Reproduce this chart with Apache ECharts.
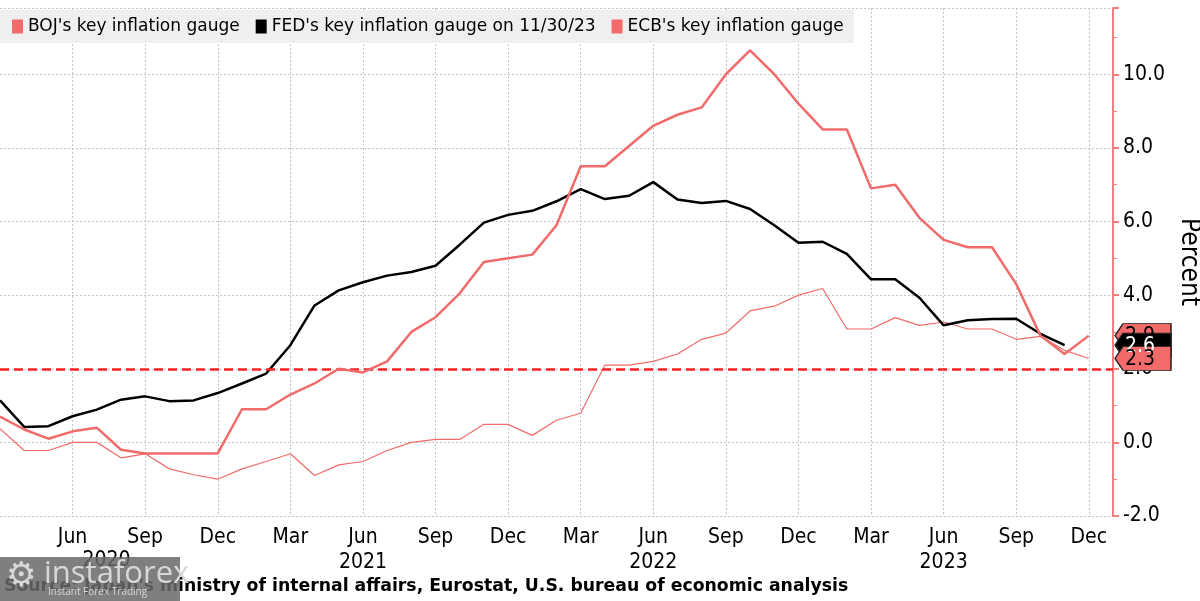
<!DOCTYPE html>
<html>
<head>
<meta charset="utf-8">
<script src="https://cdn.jsdelivr.net/npm/echarts@6/dist/echarts.min.js"></script>
<style>
html,body{margin:0;padding:0;background:#fff;}
#chart{width:1200px;height:601px;}
</style>
</head>
<body>
<div id="chart"></div>
<script>
const months = ['2020-03','2020-04','2020-05','2020-06','2020-07','2020-08','2020-09','2020-10','2020-11','2020-12',
  '2021-01','2021-02','2021-03','2021-04','2021-05','2021-06','2021-07','2021-08','2021-09','2021-10','2021-11','2021-12',
  '2022-01','2022-02','2022-03','2022-04','2022-05','2022-06','2022-07','2022-08','2022-09','2022-10','2022-11','2022-12',
  '2023-01','2023-02','2023-03','2023-04','2023-05','2023-06','2023-07','2023-08','2023-09','2023-10','2023-11','2023-12',
  '2024-01'];
const bojValues = [0.37,-0.22,-0.22,0.0,0.0,-0.42,-0.31,-0.72,-0.88,-1.0,
  -0.72,-0.52,-0.31,-0.9,-0.61,-0.52,-0.22,0.0,0.08,0.08,0.49,0.49,
  0.19,0.6,0.79,2.1,2.1,2.2,2.4,2.8,2.97,3.57,3.7,4.0,
  4.18,3.08,3.08,3.39,3.18,3.27,3.08,3.08,2.8,2.88,2.5,2.28];
const fedValues = [1.14,0.42,0.44,0.71,0.89,1.16,1.25,1.12,1.14,1.34,
  1.6,1.87,2.64,3.72,4.13,4.35,4.53,4.63,4.8,5.37,5.97,6.18,
  6.29,6.55,6.88,6.61,6.7,7.07,6.6,6.5,6.56,6.34,5.9,5.42,
  5.45,5.12,4.43,4.43,3.93,3.18,3.32,3.35,3.36,2.95,2.64];
const ecbValues = [0.7,0.35,0.1,0.3,0.4,-0.2,-0.3,-0.3,-0.3,-0.3,
  0.9,0.9,1.3,1.6,2.0,1.9,2.2,3.0,3.4,4.05,4.9,5.0,
  5.1,5.9,7.5,7.5,8.05,8.6,8.9,9.1,10.0,10.65,10.0,9.2,
  8.5,8.5,6.9,7.0,6.1,5.5,5.3,5.3,4.3,2.9,2.4,2.9];
const seriesNames = ["BOJ's key inflation gauge", "FED's key inflation gauge on 11/30/23", "ECB's key inflation gauge"];
const monthNames = {3:'Mar', 6:'Jun', 9:'Sep', 12:'Dec'};
const targetRate = 2.0;
const yMin = -2, yMax = 11.8, yInterval = 2;
const firstYear = '2020';
const sourceText = "Source: Japan's ministry of internal affairs, Eurostat, U.S. bureau of economic analysis";

const FONT = "'DejaVu Sans', sans-serif";
const COND = "'DejaVu Sans Condensed', 'DejaVu Sans', sans-serif";
const RED = '#f26b6b';
const chart = echarts.init(document.getElementById('chart'), null, {renderer:'canvas'});

// middle of the partially visible first year
const firstYearIdx = Math.floor((months.filter(function (m) { return m.slice(0, 4) === firstYear; }).length - 1) / 2);

function showTick(index) {
  if (index === 0 || index === months.length - 1) return false;
  const m = parseInt(months[index].slice(5), 10);
  return m % 3 === 0;
}

// value tag pinned on the right axis (last category = axis edge)
const TAG_PATH = 'path://M0,12 L8,0 L56,0 L56,24 L8,24 Z';
function tagSeries(name, value, bg, fg, z) {
  return {
    name: name, type: 'line', data: [], z: z,
    markPoint: {
      silent: true,
      symbol: TAG_PATH, symbolSize: [56, 24], symbolOffset: [30, 0],
      symbolKeepAspect: false,
      itemStyle: {color: bg, borderColor: '#222', borderWidth: 1},
      label: {
        show: true, position: 'inside', offset: [-3, 1],
        color: fg, fontSize: 21, fontFamily: COND,
        formatter: value.toFixed(1)
      },
      data: [{coord: [months[months.length - 1], value], value: value}]
    }
  };
}

const option = {
  animation: false,
  backgroundColor: '#fff',
  grid: {left: 0, right: 87, top: 8, bottom: 85, containLabel: false, outerBoundsMode: 'none'},
  legend: {
    data: seriesNames,
    left: 0, top: 10,
    backgroundColor: '#efefef',
    padding: [8, 10, 8, 12],
    itemGap: 16, itemWidth: 11, itemHeight: 14,
    icon: 'rect',
    textStyle: {fontSize: 17, fontFamily: FONT, color: '#000'}
  },
  xAxis: [
    {
      type: 'category', data: months, boundaryGap: false,
      axisLine: {show: false}, axisTick: {show: false},
      axisLabel: {
        interval: showTick, margin: 9, fontSize: 21, fontFamily: COND, color: '#000',
        lineHeight: 25,
        formatter: function (v) {
          const y = v.slice(0, 4), m = parseInt(v.slice(5), 10);
          const name = monthNames[m] || '';
          if (m === 6 && y !== firstYear) return name + '\n' + y;
          return name;
        }
      },
      splitLine: {show: true, interval: showTick, lineStyle: {color: '#c4c4c4', type: [2, 2], width: 1}}
    },
    {
      type: 'category', data: months, boundaryGap: true, position: 'bottom',
      axisLine: {show: false}, axisTick: {show: false}, splitLine: {show: false},
      axisLabel: {
        interval: function (i) { return i === firstYearIdx; },
        margin: 34, fontSize: 21, fontFamily: COND, color: '#000',
        formatter: function (v) { return v.slice(0, 4); }
      }
    }
  ],
  yAxis: {
    type: 'value', position: 'right', min: yMin, max: yMax, interval: yInterval,
    name: 'Percent', nameLocation: 'middle', nameRotate: -90, nameGap: 59,
    nameTextStyle: {fontSize: 26, fontFamily: COND, color: '#000'},
    axisLine: {show: true, lineStyle: {color: '#f08080', width: 2}},
    axisTick: {show: true, length: 6, lineStyle: {color: '#f08080', width: 2}},
    minorTick: {show: true, splitNumber: 2, length: 4, lineStyle: {color: '#f08080', width: 1}},
    axisLabel: {
      margin: 10, fontSize: 21, fontFamily: COND, color: '#000',
      formatter: function (v) { return Math.abs(v % 2) < 1e-9 ? v.toFixed(1) : ''; }
    },
    splitLine: {show: true, lineStyle: {color: '#c4c4c4', type: [2, 2], width: 1}}
  },
  series: [
    {
      name: seriesNames[0], type: 'line', data: bojValues, symbol: 'none', color: RED,
      lineStyle: {width: 1.2, color: RED}, z: 3
    },
    {
      name: seriesNames[1], type: 'line', data: fedValues, symbol: 'none', color: '#000',
      lineStyle: {width: 2.5, color: '#000'}, z: 4
    },
    {
      name: seriesNames[2], type: 'line', data: ecbValues, symbol: 'none', color: RED,
      lineStyle: {width: 2.5, color: RED}, z: 5,
      markLine: {
        silent: true, symbol: ['none', 'none'],
        lineStyle: {color: '#ff2020', width: 2.5, type: [9, 5]},
        label: {show: false},
        data: [{yAxis: targetRate}]
      }
    },
    tagSeries('tagECB', ecbValues[ecbValues.length - 1], RED, '#000', 10),
    tagSeries('tagFED', fedValues[fedValues.length - 1], '#000', '#fff', 11),
    tagSeries('tagBOJ', bojValues[bojValues.length - 1], RED, '#000', 12)
  ],
  graphic: [
    {type: 'text', left: 4, top: 578, z: 50,
     style: {text: sourceText, fontSize: 17.3, fontWeight: 'bold', fontFamily: FONT, fill: '#000'}},
    {type: 'rect', left: 0, top: 557, z: 60, shape: {width: 180, height: 44},
     style: {fill: 'rgba(105,105,105,0.85)'}},
    {type: 'text', left: 6, top: 560, z: 61,
     style: {text: '\u2699', fontSize: 34, fontFamily: "'DejaVu Sans'", fill: '#d8d8d8'}},
    {type: 'text', left: 44, top: 559, z: 61,
     style: {text: 'instaforex', fontSize: 31, fontFamily: "'Open Sans', sans-serif", fill: '#d8d8d8'}},
    {type: 'text', left: 48, top: 587, z: 61,
     style: {text: 'Instant Forex Trading', fontSize: 10, fontFamily: "'Open Sans', sans-serif", fill: '#d8d8d8'}}
  ]
};
chart.setOption(option);
</script>
</body>
</html>
